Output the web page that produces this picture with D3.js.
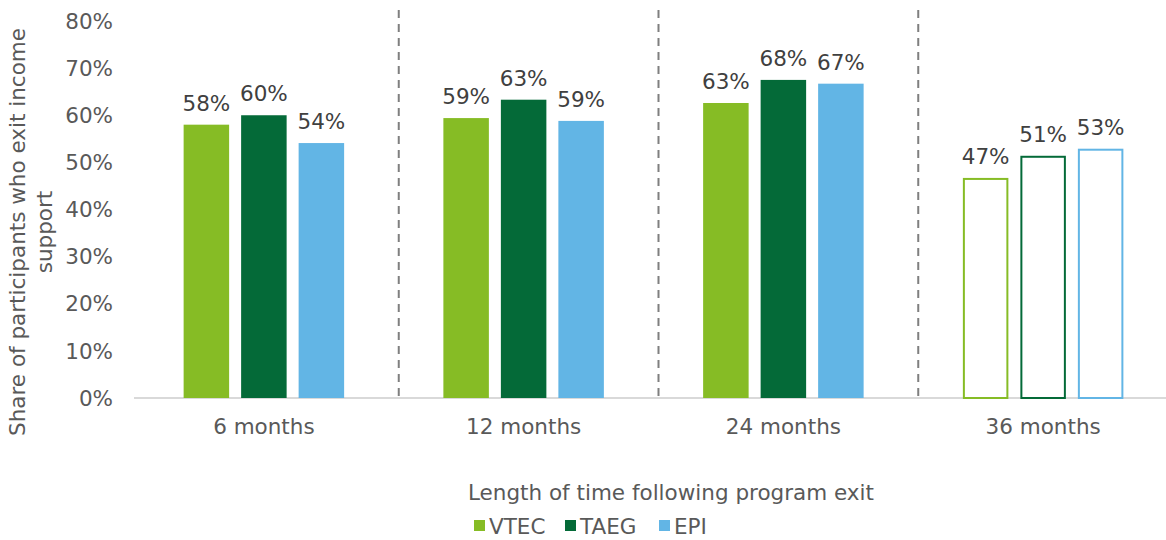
<!DOCTYPE html>
<html>
<head>
<meta charset="utf-8">
<script src="https://cdn.jsdelivr.net/npm/d3@7"></script>
<style>
  body { margin: 0; background: #fff; }
  text { font-family: "DejaVu Sans", Verdana, sans-serif; }
</style>
</head>
<body>
<div id="chart"></div>
<script>
// data
var categories = ["6 months", "12 months", "24 months", "36 months"];
var seriesNames = ["VTEC", "TAEG", "EPI"];
var vtec = [58.0, 59.4, 62.6, 46.7];
var taeg = [60.0, 63.3, 67.5, 51.4];
var epi = [54.1, 58.8, 66.7, 52.9];
var yTicks = [0, 10, 20, 30, 40, 50, 60, 70, 80];
var outlineCategory = "36 months";

var colors = {VTEC: "#86bc25", TAEG: "#046a38", EPI: "#62b5e5"};
var seriesValues = {VTEC: vtec, TAEG: taeg, EPI: epi};

var data = [];
categories.forEach(function(c, i) {
    seriesNames.forEach(function(s) {
        data.push({cat: c, series: s, value: seriesValues[s][i]});
    });
});

var W = 1166, H = 540;
var svg = d3.select("#chart").append("svg")
    .attr("width", W).attr("height", H);

var plotLeft = 134, plotRight = 1173, plotTop = 21, plotBottom = 398;
var fs = "21.5px";

var x = d3.scaleBand().domain(categories).range([plotLeft, plotRight]);
var barW = 45.5, barStep = 57.5;
var y = d3.scaleLinear().domain([0, 80]).range([plotBottom, plotTop]);

// y tick labels
svg.append("g").selectAll("text")
    .data(yTicks).enter().append("text")
    .attr("x", 113)
    .attr("y", function(d) { return y(d); })
    .attr("dy", "0.36em")
    .attr("text-anchor", "end")
    .style("font-size", fs)
    .style("fill", "#595959")
    .text(function(d) { return d + "%"; });

// dashed dividers between groups
svg.append("g").selectAll("line")
    .data(categories.slice(1)).enter().append("line")
    .attr("x1", function(d) { return x(d) + 5; })
    .attr("x2", function(d) { return x(d) + 5; })
    .attr("y1", 10)
    .attr("y2", plotBottom)
    .attr("stroke", "#7f7f7f")
    .attr("stroke-width", 2)
    .attr("stroke-dasharray", "8,6");

// axis line
svg.append("line")
    .attr("x1", plotLeft).attr("x2", W)
    .attr("y1", plotBottom).attr("y2", plotBottom)
    .attr("stroke", "#d9d9d9")
    .attr("stroke-width", 2);

function barX(d) {
    var i = seriesNames.indexOf(d.series);
    return x(d.cat) + x.bandwidth() / 2 + (i - 1) * barStep - barW / 2;
}
function isOutline(d) { return d.cat === outlineCategory; }

// bars
svg.append("g").selectAll("rect")
    .data(data).enter().append("rect")
    .attr("x", function(d) { return isOutline(d) ? barX(d) + 1 : barX(d); })
    .attr("y", function(d) { return isOutline(d) ? y(d.value) + 1 : y(d.value); })
    .attr("width", function(d) { return isOutline(d) ? barW - 2 : barW; })
    .attr("height", function(d) {
        return isOutline(d) ? plotBottom - y(d.value) - 1 : plotBottom - y(d.value);
    })
    .attr("fill", function(d) { return isOutline(d) ? "#fff" : colors[d.series]; })
    .attr("stroke", function(d) { return isOutline(d) ? colors[d.series] : "none"; })
    .attr("stroke-width", 2);

// value labels
svg.append("g").selectAll("text")
    .data(data).enter().append("text")
    .attr("x", function(d) { return barX(d) + barW / 2; })
    .attr("y", function(d) { return y(d.value) - 14; })
    .attr("text-anchor", "middle")
    .style("font-size", fs)
    .style("fill", "#404040")
    .text(function(d) { return Math.round(d.value) + "%"; });

// category labels
svg.append("g").selectAll("text")
    .data(categories).enter().append("text")
    .attr("x", function(d) { return x(d) + x.bandwidth() / 2; })
    .attr("y", 434)
    .attr("text-anchor", "middle")
    .style("font-size", fs)
    .style("fill", "#595959")
    .text(function(d) { return d; });

// y title
var yt = svg.append("text")
    .attr("transform", "translate(25,232) rotate(-90)")
    .attr("text-anchor", "middle")
    .style("font-size", fs)
    .style("fill", "#595959");
yt.append("tspan").attr("x", 0).attr("dy", 0).text("Share of participants who exit income");
yt.append("tspan").attr("x", 0).attr("dy", "1.25em").text("support");

// x title
svg.append("text")
    .attr("x", 671).attr("y", 500)
    .attr("text-anchor", "middle")
    .style("font-size", fs)
    .style("fill", "#595959")
    .text("Length of time following program exit");

// legend
var legendX = [474, 565, 659];
var lg = svg.append("g").selectAll("g")
    .data(seriesNames).enter().append("g")
    .attr("transform", function(d, i) { return "translate(" + legendX[i] + ",520)"; });
lg.append("rect")
    .attr("width", 11).attr("height", 11)
    .attr("fill", function(d) { return colors[d]; });
lg.append("text")
    .attr("x", 15).attr("y", 6)
    .attr("dy", "0.36em")
    .style("font-size", fs)
    .style("fill", "#595959")
    .text(function(d) { return d; });
</script>
</body>
</html>
